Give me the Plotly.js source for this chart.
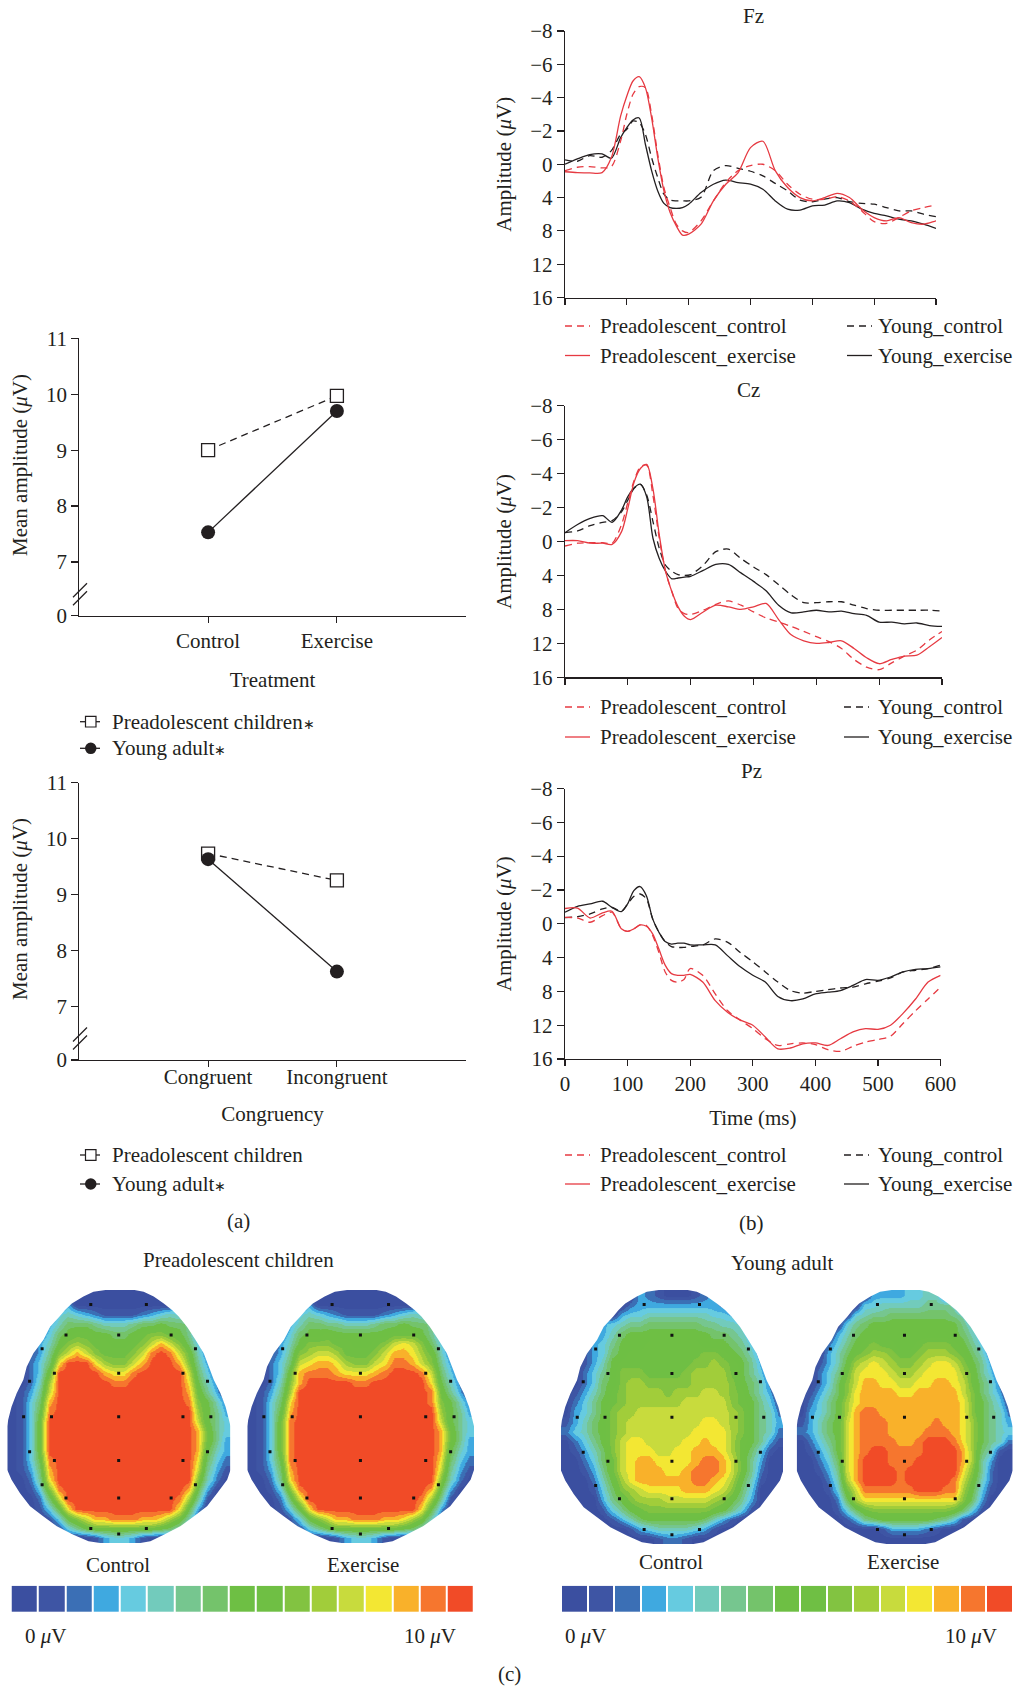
<!DOCTYPE html>
<html><head><meta charset="utf-8">
<script src="https://cdn.plot.ly/plotly-3.0.1.min.js"></script>
<style>html,body{margin:0;padding:0;background:#fff}#c{width:1017px;height:1687px}</style></head>
<body><div id="c"></div>
<script>
// ---------- panel (a) ----------
const treatmentCats = ['Control','Exercise'];
const congruencyCats = ['Congruent','Incongruent'];
const treatmentPre = [9.0, 9.97];
const treatmentYoung = [7.53, 9.7];
const congruencyPre = [9.73, 9.25];
const congruencyYoung = [9.63, 7.62];
const meanTickVals = [6.04,7,8,9,10,11];
const meanTickText = ['0','7','8','9','10','11'];

// ---------- panel (b) : amplitudes in the units printed on the axis ----------
const time = [0,20,40,60,75,90,100,110,120,130,140,150,160,170,180,190,200,220,240,260,280,300,320,340,360,380,400,420,440,460,480,500,520,540,560,580,600,611];
const ampTicks = [-8,-6,-4,-2,0,4,8,12,16];
const ampTickText = ['\u22128','\u22126','\u22124','\u22122','0','4','8','12','16'];
const fzPreControl = [0.76,0.36,0.28,0.44,0.28,-1.4,-3.0,-4.2,-4.66,-4.6,-3,-0.6,2.8,5.2,7.2,8.0,8.2,6.8,4.4,2.2,0.76,0.16,0,0.76,2.4,3.6,4.2,4.2,3.9,4.4,5.6,6.9,7.1,6.4,5.6,5.2,4.9];
const fzPreExercise = [0.9,1.0,1.04,1.0,-0.4,-2.9,-4.1,-5.0,-5.26,-4.6,-2.8,-0.4,3.2,5.8,7.4,8.5,8.4,7.2,4.4,2.4,1.0,-1.0,-1.38,0.76,2.8,4.0,4.4,4.0,3.5,4.0,5.4,6.4,6.8,6.4,7.0,7.2,6.8,6.6];
const fzYoungControl = [-0.26,-0.18,-0.52,-0.42,-0.82,-1.8,-2.1,-2.6,-2.5,-1.8,-0.4,1.6,3.6,4.3,4.4,4.4,4.4,3.96,0.76,0.16,0.5,0.84,1.4,2.3,3.2,4.3,4.5,4.2,4.0,4.5,4.7,4.8,5.2,5.6,5.6,6.0,6.3,6.4];
const fzYoungExercise = [0,-0.32,-0.58,-0.62,-0.36,-1.6,-2.2,-2.66,-2.78,-1.2,0.76,3.2,4.7,5.2,5.3,5.2,4.8,3.4,2.4,1.9,2.2,2.4,3.0,4.4,5.4,5.5,5.0,4.9,4.4,4.6,5.4,5.9,6.2,6.6,6.8,7.2,7.7];
const czPreControl = [0.53,0.2,0.14,0.14,0.2,-1,-2.3,-3.6,-4.4,-4.5,-2.7,-0.2,3.5,5.9,7.9,8.5,8.6,8.1,7.4,7.0,7.5,8.3,9,9.5,10,10.6,11.2,11.8,12.6,13.9,14.8,15.1,14.3,13.5,12.8,11.6,10.6];
const czPreExercise = [-0.05,-0.05,0.2,0.2,0.33,-0.58,-1.95,-3.5,-4.3,-4.54,-3.1,-0.4,3.5,5.9,7.7,8.8,9.2,8.3,7.5,7.7,8.0,7.7,7.3,9.2,11,11.7,12,11.9,11.7,12.6,13.7,14.4,13.9,13.5,13.4,12.4,11.3];
const czYoungControl = [-0.52,-0.62,-0.93,-1.13,-1.23,-1.75,-2.44,-3.13,-3.36,-2.74,-1.17,0.8,2.8,3.5,3.9,4.0,3.9,2.8,1.2,0.9,2.0,3.0,3.9,5.1,6.3,7.2,7.2,7.1,7.1,7.5,7.9,8.1,8.1,8.1,8.1,8.1,8.2];
const czYoungExercise = [-0.52,-1.0,-1.36,-1.52,-1.13,-1.85,-2.64,-3.17,-3.38,-2.64,-0.19,2.0,3.5,4.4,4.3,4.2,4.1,3.4,2.7,2.7,3.7,4.7,5.8,7.5,8.4,8.3,8.1,8.3,8.2,8.5,8.7,9.5,9.5,9.7,9.6,9.9,10];
const pzPreControl = [-0.38,-0.34,-0.09,-0.48,-0.68,0.6,0.9,0.6,0.14,0.2,1.4,3.4,5.7,6.7,6.9,6.6,5.3,6.1,8.3,10.3,11.4,12.4,13.6,14.4,14.2,14.1,14.3,14.9,15.1,14.5,14,13.7,13.3,11.8,10.3,8.9,7.5];
const pzPreExercise = [-0.9,-0.93,-0.34,-0.64,-0.74,0.6,0.9,0.6,0.14,0.3,1.2,3.0,4.9,5.9,6.1,6.1,6.0,6.9,9.1,10.5,11.4,12,13.4,14.8,14.7,14.2,14.1,14.4,13.6,12.8,12.4,12.5,12,10.6,8.9,6.9,6.1];
const pzYoungControl = [-0.36,-0.42,-0.58,-0.88,-0.97,-0.74,-1.17,-1.62,-1.76,-1.47,-0.29,1.0,2.1,2.7,2.8,2.8,2.7,2.5,1.8,2.2,3.4,4.5,5.7,6.9,7.9,8.2,8.0,7.8,7.6,7.5,7.1,6.8,6.4,5.7,5.5,5.3,4.9];
const pzYoungExercise = [-0.68,-1.03,-1.17,-1.33,-0.97,-0.72,-1.17,-1.96,-2.2,-1.66,-0.29,1.0,2.1,2.4,2.3,2.3,2.5,2.5,2.5,3.8,5.1,6.1,6.9,8.6,9.1,8.9,8.3,8.1,7.9,7.3,6.6,6.7,6.3,5.7,5.4,5.3,5.1];
const timeTicks = [0,100,200,300,400,500,600];

// ---------- panel (c) : colour levels 0-16 written as base-17 digits, one string per row ----------
const levelColours = ['#3b4fa0','#3e55a4','#3b6fb5','#3fa9e0','#66cbe0','#72cbbc','#76c68f','#74c36b','#6ebf44','#6fbf44','#82c341','#a1cd3a','#c8db3d','#f3e733','#f9b12a','#f6762e','#f14b27'];
const levelStrip = [0,1,2,3,4,5,6,7,8,9,10,11,12,13,14,15,16];
const preControlMap = [
"000000000000000000000000","000000300000000000300000","000004543211112345430000","000035777655567787764300",
"000247899887789aa9863000","000358aba99889aceca74100","00136aceca999acfgfc95200","00247dgggdbaacegggea6300",
"00249gggggeddfgggggc7410","0025bggggggffggggggd8520","0136cgggggggggggggge9630",
"0147eggggggggggggggfa852","0148fgggggggggggggggb863","0149ggggggggggggggggc864","0149gggggggggggggggge964",
"0149gggggggggggggggge963","0149gggggggggggggggge853","0148fgggggggggggggggd742","0137egggggggggggggggc631",
"0026dggggggggggggggga520","0014afggggggggggggge8300","00027cggggggggggggfb6100","000148dgggggggggggd83000",
"0000148aceefffeedb951000","000001468999999987520000","000000000134431000000000"];
const preExerciseMap = [
"000000000000000000000000","000000300000000000300000","000004543211112345430000","000035776655567787764300",
"000247889888888999863000","000358aaa99889acdca74100","00136abccb999aceedb95200","00247cdeedbaacdffeca6300",
"00249efffedddefgggfc7410","0025aegggggffggggggd8520","0136bggggggggggggggf9630",
"0147dggggggggggggggfa852","0148egggggggggggggggb863","0149fgggggggggggggggc864","0149fggggggggggggggge964",
"0149fggggggggggggggge963","0149fggggggggggggggge853","0148fgggggggggggggggd742","0137egggggggggggggggc631",
"0026dggggggggggggggga520","0014afggggggggggggge8300","00027cggggggggggggfb6100","000148dgggggggggggd83000",
"0000148aceefffeedb951000","000001468999999987520000","000000000134431000000000"];
const youngControlMap = [
"000000003210001230000000","000000023333333332000000","000000344555555544300000","000034566777777665540000",
"000235788888888877653000","000346888999999888764200","001347899999999aa9875200","00135899999999aaba986300",
"002468aaa9999abbbb986410","002478abbaaaaabbbba87520","013579abbbbabbbccba97530","024689abbbbbbccccca98641",
"03468abbccccccccccba8652","13578abccccccccddcba8653","24578abcccccccddddba8652","02468acddccccddeddb98631",
"01357acdddccddeeedb97410","002479cdeeddddeffec96300","001369cdeeeddefffec96200","000258bdeeeeeeffedb85100",
"000147abcddddeeedca74000","0000368abbbcccccba863000","000014689aaaaaaa98641000","000001357888888753100000",
"000000013455554310000000","000000000012210000000000"];
const youngExerciseMap = [
"000000003333445500000000","000000044555556665000000","000000456677777776500000","000004678888888888640000",
"000035788888888888753000","00024689a99889aaa9864200","0003579abba99abbba975200","001358bcdcbaabcddca86300",
"002469cdddcbbcddddb96410","00247aceeddccddeedc97520","01357adeeeeddeeeeeca7530","02468bdeeeeeeeeeeeda8641",
"03468beffeeeeeeeeeda8652","13578cefffeeeeefeedb8653","23578cefffeeeefffedb8654","02468ceffffeefgggfdb8652",
"01358cefggffffggggeb7510","00247cegggfffgggggeb6300","00136ceggggfggggggda6200","00025beggggfgggggfc95200",
"000149cffffffgggffb84100","000027bddddddddddda73000","00001479aaaaaaaaa9741000","000001367888888764100000",
"000000000133332100000000","000000000000000000000000"];
const outlineY = [0,.007,.026,.053,.079,.105,.145,.197,.25,.303,.355,.408,.461,.513,.539,.711,.75,.803,.855,.895,.934,.967,.993,1];
const outlineL = [.44,.386,.341,.289,.259,.234,.192,.162,.117,.087,.072,.042,.019,.004,0,0,.019,.057,.102,.162,.222,.296,.364,.416];
const outlineR = [.57,.611,.656,.701,.738,.768,.805,.843,.880,.903,.925,.955,.978,.993,1,1,.985,.940,.895,.835,.775,.701,.641,.596];
const electrodeX = [.374,.623,.263,.499,.734,.156,.843,.211,.499,.787,.100,.897,.073,.198,.499,.787,.912,.100,.897,.211,.499,.787,.156,.843,.263,.499,.734,.374,.623,.499];
const electrodeY = [.057,.057,.178,.178,.178,.232,.232,.329,.329,.329,.361,.361,.501,.501,.501,.501,.501,.639,.639,.674,.674,.674,.770,.770,.822,.822,.822,.943,.943,.964];

// ---------- helpers ----------
const W=1017,H=1687;
const INK='#231f20', RED='#e63a42', FONT='"Liberation Serif","Times New Roman",serif';
const DASH='7px,5px';
const AST='<span style="font-size:14px">\u2217</span>';
const px=x=>x/W, py=y=>1-y/H;
const toAxis=v=>v<0?v:v/2;
const traces=[], shapes=[], annotations=[];
const layout={width:W,height:H,margin:{l:0,r:0,t:0,b:0},paper_bgcolor:'#fff',plot_bgcolor:'rgba(0,0,0,0)',showlegend:false,
  font:{family:FONT,size:21,color:INK},shapes,annotations};
let axisCount=0;
function addAxes(x0,x1,y0,y1,xo,yo){
  axisCount++; const n=axisCount===1?'':axisCount;
  layout['xaxis'+n]=Object.assign({domain:[px(x0),px(x1)],anchor:'y'+n,showgrid:false,zeroline:false,fixedrange:true},xo);
  layout['yaxis'+n]=Object.assign({domain:[py(y1),py(y0)],anchor:'x'+n,showgrid:false,zeroline:false,fixedrange:true},yo);
  return {x:'x'+n,y:'y'+n};
}
const hidden={visible:false};
const axisBase={showline:true,linecolor:INK,linewidth:1.2,ticks:'outside',tickcolor:INK,tickwidth:1.2,ticklen:7,tickfont:{family:FONT,size:21,color:INK}};
function text(t,x,y,o){annotations.push(Object.assign({text:t,xref:'paper',yref:'paper',x:px(x),y:py(y),showarrow:false,xanchor:'center',yanchor:'middle',font:{family:FONT,size:21,color:INK}},o||{}));}
function seg(x0,y0,x1,y1,color,dash,w){shapes.push({type:'line',xref:'paper',yref:'paper',x0:px(x0),y0:py(y0),x1:px(x1),y1:py(y1),line:{color,width:w||1.3,dash:dash||'solid'}});}

// ---------- panel (a) ----------
function meanChart(cats,pre,young,top,bottom,xtitle,standoff,labelShift,legY,preLabel,youngLabel){
  const a=addAxes(79.3,465.7,top,bottom,
    Object.assign({},axisBase,{type:'category',categoryorder:'array',categoryarray:cats,range:[-1,2],ticklen:6,ticklabelstandoff:labelShift,title:{text:xtitle,standoff,font:{family:FONT,size:21,color:INK}}}),
    Object.assign({},axisBase,{range:[6.04,11],tickmode:'array',tickvals:meanTickVals,ticktext:meanTickText}));
  traces.push({type:'scatter',mode:'lines+markers',x:cats,y:pre,xaxis:a.x,yaxis:a.y,name:'Preadolescent children',
    line:{color:INK,width:1.3,dash:DASH},marker:{symbol:'square',size:13,color:'#fff',line:{color:INK,width:1.3}},cliponaxis:false});
  traces.push({type:'scatter',mode:'lines+markers',x:cats,y:young,xaxis:a.x,yaxis:a.y,name:'Young adult',
    line:{color:INK,width:1.3},marker:{symbol:'circle',size:14,color:INK},cliponaxis:false});
  const b=bottom;
  seg(73,b-18.5,87,b-32.5,INK); seg(73,b-10.5,87,b-24.5,INK);
  const [l1,l2]=legY;
  seg(80,l1,100,l1,INK); seg(80,l2,100,l2,INK);
  shapes.push({type:'rect',xref:'paper',yref:'paper',x0:px(85.5),x1:px(96),y0:py(l1+5.3),y1:py(l1-5.3),fillcolor:'#fff',line:{color:INK,width:1.2}});
  shapes.push({type:'circle',xref:'paper',yref:'paper',x0:px(85),x1:px(96.5),y0:py(l2+5.8),y1:py(l2-5.8),fillcolor:INK,line:{color:INK,width:0}});
  text(preLabel,110,l1,{xanchor:'left'}); text(youngLabel,110,l2,{xanchor:'left'});
}
meanChart(treatmentCats,treatmentPre,treatmentYoung,338.3,615.7,'Treatment',20,0,[721.7,748.3],'Preadolescent children'+AST,'Young adult'+AST);
meanChart(congruencyCats,congruencyPre,congruencyYoung,782.5,1060,'Congruency',17,-8,[1155,1184],'Preadolescent children','Young adult'+AST);
text('Mean amplitude (<i>\u03bc</i>V)',20,465,{textangle:-90});
text('Mean amplitude (<i>\u03bc</i>V)',20,909,{textangle:-90});
text('(a)',238,1221);

// ---------- panel (b) ----------
function erpChart(name,titleX,titleY,x1,y0,y1,pc,pe,yc,ye,showX,leg1,leg2,bx){
  const a=addAxes(565,x1,y0,y1,
    Object.assign({},axisBase,{range:[0,600],tickmode:'array',tickvals:timeTicks,ticklen:6,showticklabels:!!showX,
      title:showX?{text:'Time (ms)',standoff:14,font:{family:FONT,size:21,color:INK}}:undefined}),
    Object.assign({},axisBase,{range:[8,-8],tickmode:'array',tickvals:ampTicks.map(toAxis),ticktext:ampTickText,
      title:{text:'Amplitude (<i>\u03bc</i>V)',standoff:13,font:{family:FONT,size:21,color:INK}}}));
  [[yc,INK,DASH,'Young_control'],[ye,INK,'solid','Young_exercise'],[pc,RED,DASH,'Preadolescent_control'],[pe,RED,'solid','Preadolescent_exercise']].forEach(s=>{
    traces.push({type:'scatter',mode:'lines',x:time.slice(0,s[0].length),y:s[0].map(toAxis),xaxis:a.x,yaxis:a.y,name:s[3],cliponaxis:false,
      line:{color:s[1],width:1.3,dash:s[2],shape:'spline',smoothing:0.8}});
  });
  text(name,titleX,titleY);
  seg(565,leg1,590,leg1,RED,DASH); seg(565,leg2,590,leg2,RED);
  seg(bx,leg1,bx+25,leg1,INK,DASH); seg(bx,leg2,bx+25,leg2,INK);
  text('Preadolescent_control',597.5,leg1,{xanchor:'left'}); text('Preadolescent_exercise',597.5,leg2,{xanchor:'left'});
  text('Young_control',876,leg1,{xanchor:'left'}); text('Young_exercise',876,leg2,{xanchor:'left'});
}
erpChart('Fz',753,16,936,31,297.5,fzPreControl,fzPreExercise,fzYoungControl,fzYoungExercise,false,326,355.5,847);
erpChart('Cz',748,390,942,405.7,677.3,czPreControl,czPreExercise,czYoungControl,czYoungExercise,false,707,737,844);
erpChart('Pz',751,771,940.6,788.5,1059,pzPreControl,pzPreExercise,pzYoungControl,pzYoungExercise,true,1155,1184,844);
text('(b)',751,1223);

// ---------- panel (c) ----------
const scale=[]; levelColours.forEach((c,i)=>{scale.push([i/17,c]);scale.push([(i+1)/17,c]);});
function parseMap(rows){return rows.map(r=>r.split('').map(ch=>parseInt(ch,17)));}
function head(rows,x0,x1,y0,y1){
  const e=0.02, w=x1-x0, h=y1-y0;
  const a=addAxes(x0-e*w,x1+e*w,y0-e*h,y1+e*h,Object.assign({range:[-e,1+e]},hidden),Object.assign({range:[1+e,-e]},hidden));
  const z=parseMap(rows);
  traces.push({type:'heatmap',z,x0:1/48,dx:1/24,y0:1/52,dy:1/26,xaxis:a.x,yaxis:a.y,zsmooth:'best',zmin:-0.5,zmax:16.5,colorscale:scale,showscale:false,hoverinfo:'skip'});
  traces.push({type:'scatter',mode:'markers',x:electrodeX,y:electrodeY,xaxis:a.x,yaxis:a.y,marker:{symbol:'square',size:3,color:'#111'},hoverinfo:'skip'});
  let hole='M '+outlineL[0]+' '+outlineY[0];
  outlineY.forEach((y,i)=>{hole+=' L '+outlineL[i]+' '+y;});
  for(let i=outlineY.length-1;i>=0;i--) hole+=' L '+outlineR[i]+' '+outlineY[i];
  shapes.push({type:'path',xref:a.x,yref:a.y,path:'M -0.03 -0.03 L 1.03 -0.03 L 1.03 1.03 L -0.03 1.03 Z '+hole+' Z',fillcolor:'#fff',fillrule:'evenodd',line:{width:0},layer:'above'});
}
head(preControlMap,7.3,230.5,1290,1543);
head(preExerciseMap,247.3,474,1290,1543);
head(youngControlMap,561,783.3,1290,1544);
head(youngExerciseMap,796.7,1012.7,1290,1544);
function strip(x0,x1){
  const a=addAxes(x0,x1,1585.7,1612,Object.assign({range:[-0.5,16.5]},hidden),Object.assign({range:[-0.5,0.5]},hidden));
  traces.push({type:'heatmap',z:[levelStrip],x:levelStrip,y:[0],xaxis:a.x,yaxis:a.y,xgap:2,zmin:-0.5,zmax:16.5,colorscale:scale,showscale:false,hoverinfo:'skip'});
}
strip(10.7,474); strip(561,1012.7);
text('Preadolescent children',238,1260);
text('Young adult',781.7,1263);
text('Control',118,1565); text('Exercise',363,1565);
text('Control',670.7,1562); text('Exercise',903,1562);
text('0 <i>\u03bc</i>V',45.7,1635.7); text('10 <i>\u03bc</i>V',430,1635.7);
text('0 <i>\u03bc</i>V',585.7,1635.7); text('10 <i>\u03bc</i>V',971,1635.7);
text('(c)',510,1674);

Plotly.newPlot('c',traces,layout,{displayModeBar:false,staticPlot:true});
</script></body></html>
